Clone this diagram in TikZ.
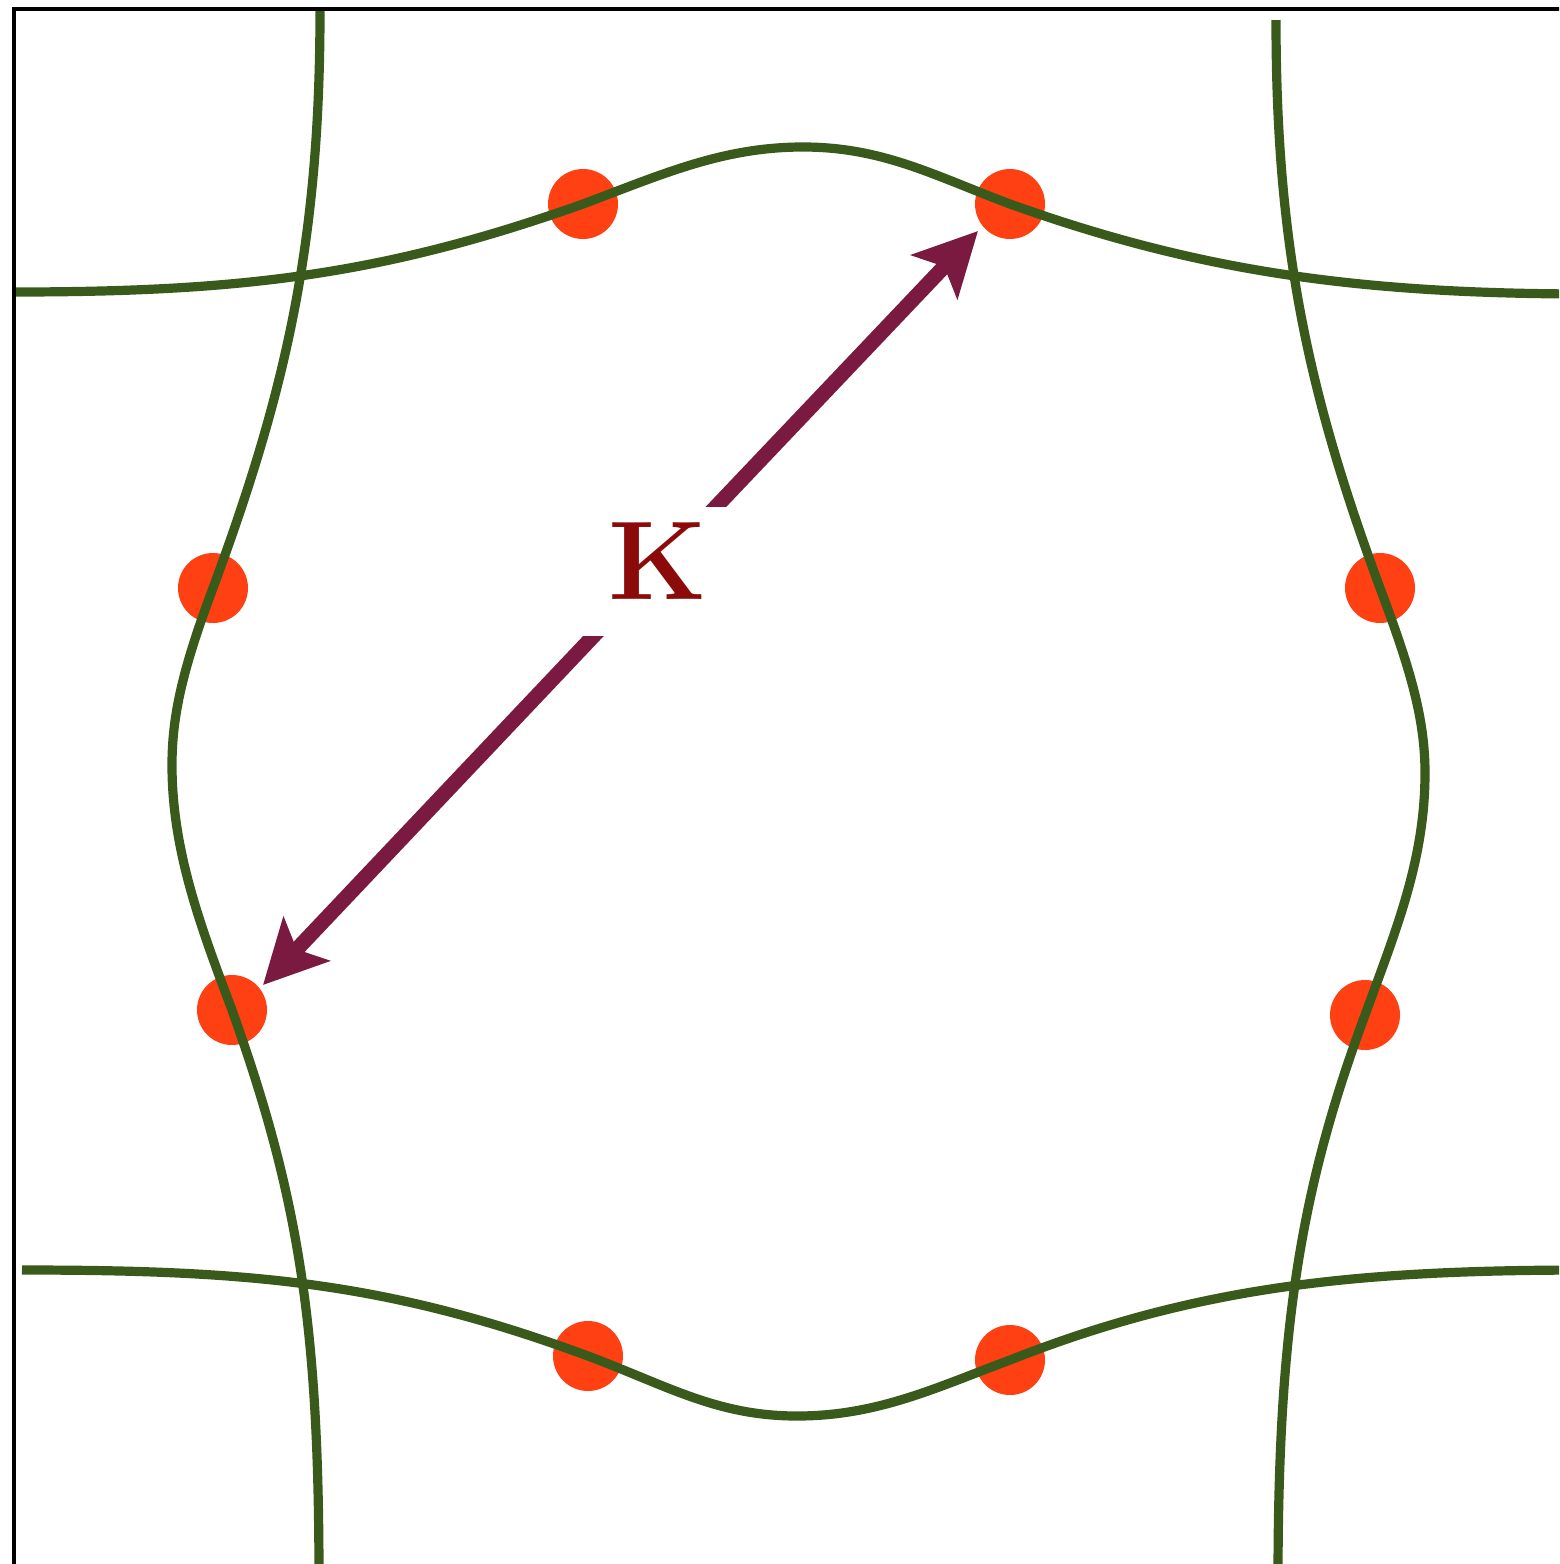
\documentclass[tikz,border=0pt]{standalone}
\usetikzlibrary{arrows.meta}
\definecolor{fsgreen}{RGB}{58,90,28}
\definecolor{dotorange}{RGB}{255,64,19}
\definecolor{arrmaroon}{RGB}{122,26,64}
\definecolor{kred}{RGB}{139,10,10}
\tikzset{
  fermi/.style={draw=fsgreen, line width=4.6pt},
  hotspot/.style={circle, fill=dotorange, minimum size=35pt, inner sep=0pt},
  qvec/.style={draw=arrmaroon, line width=7.5pt,
    -{Stealth[length=31.5pt, width=31.5pt, inset=7pt, fill=arrmaroon]}},
  framel/.style={draw=black, line width=2.4pt},
  klabel/.style={fill=white, minimum width=80pt, minimum height=64.5pt, inner sep=0pt,
      text height=38pt, text depth=10pt, text=kred,
      font=\fontsize{56}{60}\selectfont\bfseries}
}
\begin{document}
\begin{tikzpicture}[x=0.5pt, y=-0.5pt]
\useasboundingbox (0,0) rectangle (1559,1564);
\clip (0,0) rectangle (1559,1564);
\fill[white] (0,0) rectangle (1559,1564);
% hot spots
\node[hotspot] (d1) at (583,204) {};
\node[hotspot] (d2) at (1010,204) {};
\node[hotspot] (d3) at (213,588) {};
\node[hotspot] (d4) at (1380,588) {};
\node[hotspot] (d5) at (232,1010) {};
\node[hotspot] (d6) at (1365,1015) {};
\node[hotspot] (d7) at (588,1356) {};
\node[hotspot] (d8) at (1010,1360) {};
% Fermi surface curves
\draw[fermi] (14,292) .. controls (242,292) and (383,275) .. (583,204)
  .. controls (663,174) and (723,147) .. (803,147)
  .. controls (883,147) and (935,176) .. (1010,204)
  .. controls (1200,272) and (1360,294) .. (1590,294);
\draw[fermi] (22,1270) .. controls (250,1270) and (388,1282) .. (588,1356)
  .. controls (668,1386) and (717,1416) .. (797,1416)
  .. controls (877,1416) and (935,1388) .. (1010,1360)
  .. controls (1200,1285) and (1360,1270) .. (1590,1270);
\draw[fermi] (320,11) .. controls (320,240) and (287,388) .. (213,588)
  .. controls (183,668) and (172,715) .. (172,765)
  .. controls (172,850) and (200,925) .. (232,1010)
  .. controls (300,1200) and (319,1330) .. (319,1580);
\draw[fermi] (1276,20) .. controls (1276,240) and (1306,388) .. (1380,588)
  .. controls (1410,668) and (1425,718) .. (1425,773)
  .. controls (1425,860) and (1396,930) .. (1365,1015)
  .. controls (1300,1190) and (1278,1330) .. (1278,1580);
% frame
\draw[framel] (14,1600) -- (14,9) -- (1600,9);
% nesting vectors and label
\coordinate (kc) at (655,571);
\coordinate (t1) at (978,231);
\coordinate (t2) at (263,985);
\draw[qvec] (kc) -- (t1);
\draw[qvec] (kc) -- (t2);
\node[klabel] (K) at (658,571) {K};
\end{tikzpicture}
\end{document}
